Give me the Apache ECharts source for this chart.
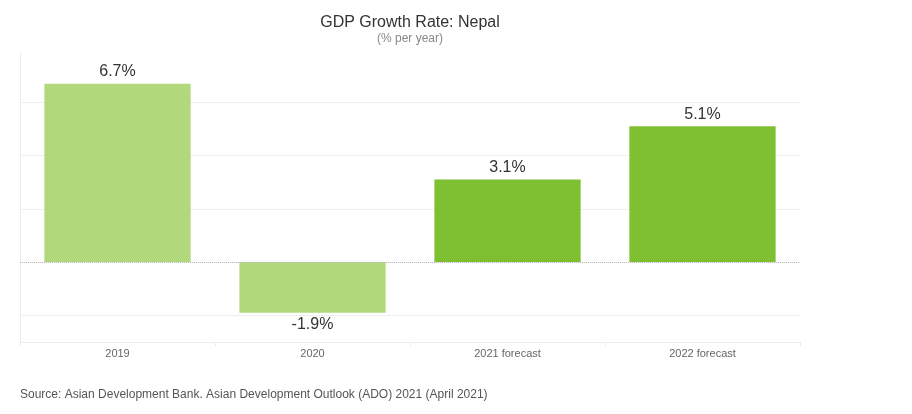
<!DOCTYPE html>
<html>
<head>
<meta charset="utf-8">
<script src="https://cdn.jsdelivr.net/npm/echarts@6/dist/echarts.min.js"></script>
<style>
html,body{margin:0;padding:0;background:#fff;}
#chart{width:912px;height:414px;}
</style>
</head>
<body>
<div id="chart"></div>
<script>
const categories = ['2019', '2020', '2021 forecast', '2022 forecast'];
const values = [6.7, -1.9, 3.1, 5.1];
const isForecast = [false, false, true, true];
const titleText = 'GDP Growth Rate: Nepal';
const subtitleText = '(% per year)';
const sourceText = 'Source: Asian Development Bank. Asian Development Outlook (ADO) 2021 (April 2021)';

const LIGHT = '#b1d87a';
const DARK = '#7fbf32';
const FONT = 'Arial, "Liberation Sans", sans-serif';

const chart = echarts.init(document.getElementById('chart'), null, {renderer: 'canvas'});
chart.setOption({
  animation: false,
  backgroundColor: '#ffffff',
  title: [{
    text: titleText,
    subtext: subtitleText,
    left: 410,
    textAlign: 'center',
    top: 15,
    padding: 0,
    itemGap: 2,
    textStyle: {fontFamily: FONT, fontSize: 16, fontWeight: 'normal', color: '#333'},
    subtextStyle: {fontFamily: FONT, fontSize: 12, color: '#888'}
  }, {
    text: sourceText,
    left: 20,
    top: 389,
    padding: 0,
    textStyle: {fontFamily: FONT, fontSize: 12, fontWeight: 'normal', color: '#555'}
  }],
  grid: {left: 20, right: 112, top: 53, bottom: 72, containLabel: false},
  xAxis: {
    type: 'category',
    data: categories,
    position: 'bottom',
    axisLine: {onZero: false, lineStyle: {color: '#ececec'}},
    axisTick: {show: true, alignWithLabel: false, length: 4, lineStyle: {color: '#ececec'}},
    axisLabel: {fontFamily: FONT, fontSize: 11, color: '#666', margin: 6}
  },
  yAxis: {
    type: 'value',
    min: -3,
    max: 7.85,
    interval: 1,
    axisLabel: {show: false},
    axisTick: {show: false},
    axisLine: {show: true, lineStyle: {color: '#ececec'}},
    splitLine: {show: true, showMaxLine: false, lineStyle: {color: ['rgba(0,0,0,0)', '#eeeeee'], width: 1}}
  },
  series: [{
    type: 'bar',
    barWidth: '75%',
    data: values.map((v, i) => ({
      value: v,
      itemStyle: {color: isForecast[i] ? DARK : LIGHT},
      label: {position: v < 0 ? 'bottom' : 'top'}
    })),
    label: {
      show: true,
      formatter: p => p.value + '%',
      fontFamily: FONT,
      fontSize: 16,
      color: '#333',
      distance: 4
    },
    markLine: {
      silent: true,
      symbol: 'none',
      label: {show: false},
      lineStyle: {type: 'dotted', color: '#bbbbbb', width: 1},
      data: [{yAxis: 0}]
    }
  }]
});
</script>
</body>
</html>
